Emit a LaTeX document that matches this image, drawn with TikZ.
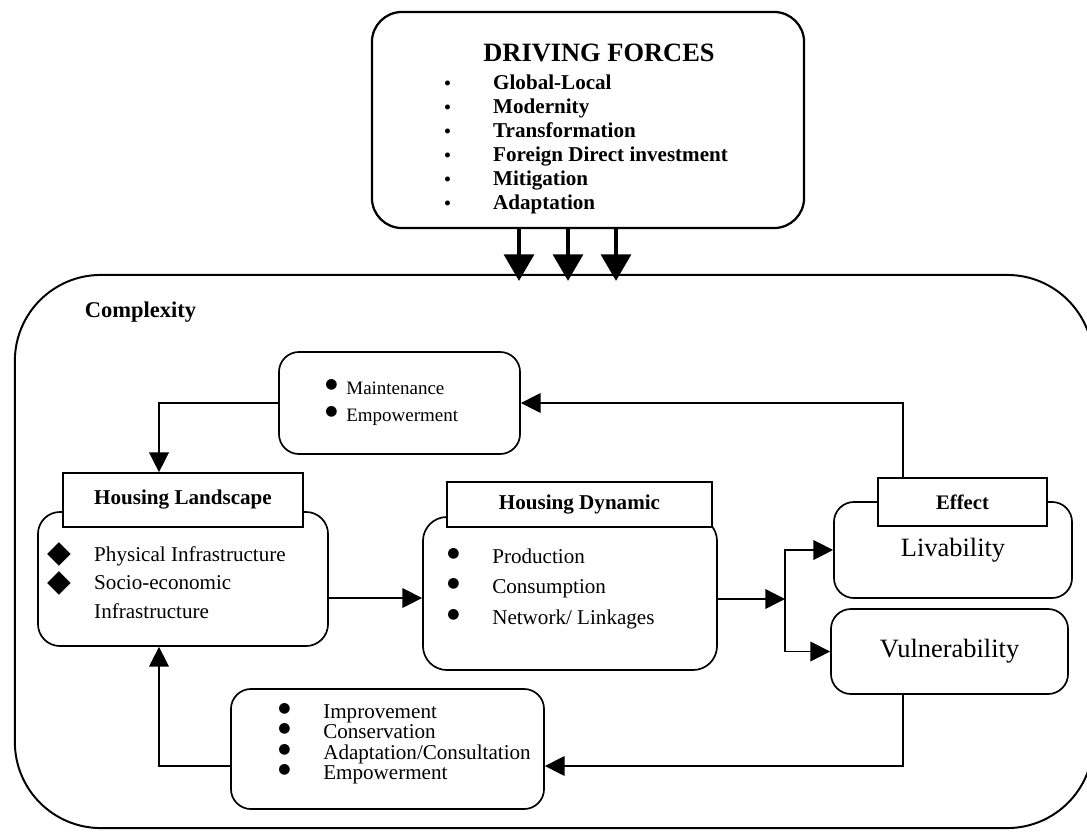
\documentclass[tikz,border=0pt]{standalone}
\usepackage{fontspec}
\setmainfont{Liberation Serif}
\newfontfamily\symfont{DejaVu Sans}
\usetikzlibrary{arrows.meta,positioning}
\newcommand{\bul}[1]{\makebox[#1][l]{\raisebox{4pt}{\symfont\fontsize{10}{10}\selectfont ●}}}
\newcommand{\smallbul}[1]{\makebox[#1][l]{\fontsize{13}{13}\selectfont•}}
\newcommand{\dia}[1]{\makebox[#1][l]{\raisebox{-1pt}{\symfont\fontsize{22}{22}\selectfont ◆}}}

\begin{document}
\begin{tikzpicture}[x=0.025cm,y=-0.025cm,rbox/.style={draw,line width=1.2pt,rounded corners=0.5cm,inner sep=0pt},tag/.style={draw,line width=1.2pt,fill=white,inner sep=0pt,font=\fontsize{15}{18}\selectfont\bfseries},arr/.style={-{Triangle[length=14pt,width=14pt]},line width=1pt},fat/.style={-{Triangle[length=19pt,width=21pt]},line width=3.5pt,shorten >=-5pt},list/.style={anchor=base west,inner sep=0pt}]
 \useasboundingbox (0,0) rectangle (1087,831);
 % outer frame and driving forces
 \node[rbox,line width=1.4pt,rounded corners=2.15cm,minimum width=26.95cm,minimum height=13.825cm] (cx) at (554,551.5) {};
 \node[anchor=base west,font=\fontsize{16}{19}\selectfont\bfseries] (cxtitle) at (80,317) {Complexity};
 \node[rbox,line width=1.6pt,rounded corners=0.75cm,minimum width=10.8cm,minimum height=5.4cm] (df) at (588,120) {};
 \node[anchor=base,font=\fontsize{18.8}{22}\selectfont\bfseries] (dftitle) at (599,61) {DRIVING FORCES};
 \node[list,font=\fontsize{15}{17.1}\selectfont\bfseries] (dflist) at (444,89) {\begin{tabular}[t]{@{}l@{}}\smallbul{34.8pt}Global-Local\\\smallbul{34.8pt}Modernity\\\smallbul{34.8pt}Transformation\\\smallbul{34.8pt}Foreign Direct investment\\\smallbul{34.8pt}Mitigation\\\smallbul{34.8pt}Adaptation\end{tabular}};
 % boxes
 \node[rbox,minimum width=6.025cm,minimum height=2.55cm] (maint) at (399.5,403) {};
 \node[list,font=\fontsize{13.5}{19.2}\selectfont] (maintlist) at (325,394) {\begin{tabular}[t]{@{}l@{}}\bul{15pt}Maintenance\\\bul{15pt}Empowerment\end{tabular}};
 \node[rbox,rounded corners=0.55cm,minimum width=7.25cm,minimum height=3.35cm] (hl) at (183,579) {};
 \node[tag,minimum width=6cm,minimum height=1.35cm] (hltag) at (183,500) {Housing Landscape};
 \node[list,font=\fontsize{15}{20.6}\selectfont] (hllist) at (47,561) {\begin{tabular}[t]{@{}l@{}}\dia{33.4pt}Physical Infrastructure\\\dia{33.4pt}Socio-economic\\\hspace{33.4pt}Infrastructure\end{tabular}};
 \node[rbox,rounded corners=0.6cm,minimum width=7.35cm,minimum height=3.825cm] (hd) at (570,593.5) {};
 \node[tag,minimum width=6.625cm,minimum height=1.125cm] (hdtag) at (579.5,504.5) {Housing Dynamic};
 \node[list,font=\fontsize{15}{21.7}\selectfont] (hdlist) at (447,563) {\begin{tabular}[t]{@{}l@{}}\bul{32pt}Production\\\bul{32pt}Consumption\\\bul{32pt}Network/ Linkages\end{tabular}};
 \node[rbox,minimum width=5.95cm,minimum height=2.4cm,font=\fontsize{18.8}{22}\selectfont] (liv) at (953,550) {Livability};
 \node[tag,font=\fontsize{14.7}{17}\selectfont\bfseries,minimum width=4.225cm,minimum height=1.2cm] (effect) at (962.5,502) {Effect};
 \node[rbox,minimum width=5.925cm,minimum height=2.125cm,font=\fontsize{18.8}{22}\selectfont] (vul) at (949.5,651.5) {Vulnerability};
 \node[rbox,minimum width=7.825cm,minimum height=3cm] (imp) at (387.5,749) {};
 \node[list,font=\fontsize{15}{13.9}\selectfont] (implist) at (278,718) {\begin{tabular}[t]{@{}l@{}}\bul{32pt}Improvement\\\bul{32pt}Conservation\\\bul{32pt}Adaptation/Consultation\\\bul{32pt}Empowerment\end{tabular}};
 % connectors
 \coordinate (lx) at (159,0); \coordinate (rx) at (903,0); \coordinate (fork) at (785,599); \coordinate (mid) at (0,598); \coordinate (low) at (0,766);
 \draw[fat] (df.south -| 519,0)--(cx.north -| 519,0); \draw[fat] (df.south -| 568,0)--(cx.north -| 568,0); \draw[fat] (df.south -| 616,0)--(cx.north -| 616,0);
 \draw[arr] (maint.west) -| (lx |- hltag.north);
 \draw[arr] (hl.east |- mid)--(hd.west |- mid);
 \draw[arr] (hd.east |- fork)--(fork);
 \draw[arr] (fork) |- (liv.west); \draw[arr] (fork) |- (vul.west);
 \draw[arr] (vul.south -| rx) |- (imp.east |- low);
 \draw[arr] (imp.west |- low) -| (lx |- hl.south);
 \draw[arr] (effect.north -| rx) |- (maint.east);
\end{tikzpicture}
\end{document}
